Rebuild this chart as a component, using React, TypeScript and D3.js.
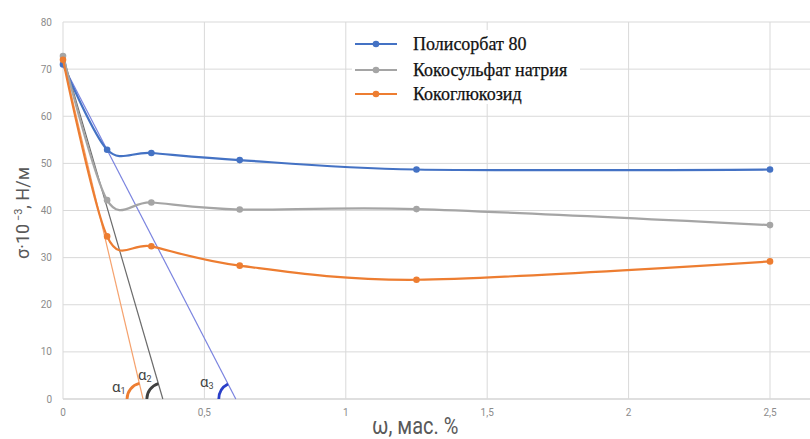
import React from "react";
import * as d3 from "d3";

const concentrations = [0, 0.156, 0.3125, 0.625, 1.25, 2.5];
const polysorbate = [71, 52.9, 52.2, 50.7, 48.7, 48.7];
const cocosulfate = [72.8, 42.2, 41.7, 40.2, 40.3, 36.9];
const cocoglucoside = [72, 34.5, 32.4, 28.3, 25.3, 29.2];

const seriesNames = ["Полисорбат 80", "Кокосульфат натрия", "Кокоглюкозид"];
const seriesColors = ["#4472C4", "#A5A5A5", "#ED7D31"];

// where each tangent from the first point crosses zero
const tangentIntercepts = [0.611, 0.353, 0.283];
const tangentColors = ["#7b84e0", "#6b6b6b", "#f5a26e"];
const arcColors = ["#2a3fc8", "#404040", "#ED7D31"];
const angleLabels = ["3", "2", "1"];

const xTicks = [0, 0.5, 1, 1.5, 2, 2.5];
const yTicks = [0, 10, 20, 30, 40, 50, 60, 70, 80];

const W = 810;
const H = 439;
const left = 63;
const right = 810;
const top = 22;
const bottom = 399;

const App: React.FC = () => {
  const x = d3.scaleLinear().domain([0, 2.5]).range([left, 770]);
  const y = d3.scaleLinear().domain([0, 80]).range([bottom, top]);
  const fmt = (v: number) => String(v).replace(".", ",");

  const allSeries = [polysorbate, cocosulfate, cocoglucoside];
  const line = d3
    .line<[number, number]>()
    .x((d) => x(d[0]))
    .y((d) => y(d[1]))
    .curve(d3.curveCardinal.tension(0.1));

  const arcGen = d3.arc();

  return (
    <svg
      width={W}
      height={H}
      style={{ position: "absolute", left: 0, top: 0, background: "#fff" }}
      fontFamily="Roboto, 'Open Sans', sans-serif"
    >
      {/* grid */}
      {yTicks.map((t) => (
        <line
          key={"gy" + t}
          x1={left}
          x2={right}
          y1={y(t)}
          y2={y(t)}
          stroke={t === 0 ? "#bfbfbf" : "#d9d9d9"}
          strokeWidth={1}
        />
      ))}
      {xTicks.map((t) => (
        <line key={"gx" + t} x1={x(t)} x2={x(t)} y1={top} y2={bottom} stroke="#d9d9d9" strokeWidth={1} />
      ))}
      {yTicks.map((t) => (
        <text key={"ty" + t} x={52} y={y(t) + 3.5} textAnchor="end" fontSize={10} fill="#8c8c8c">
          {t}
        </text>
      ))}
      {xTicks.map((t) => (
        <text key={"tx" + t} x={x(t)} y={416} textAnchor="middle" fontSize={10} fill="#8c8c8c">
          {fmt(t)}
        </text>
      ))}

      {/* tangents */}
      {allSeries.map((s, i) => (
        <line
          key={"tan" + i}
          x1={x(0)}
          y1={y(s[0])}
          x2={x(tangentIntercepts[i])}
          y2={y(0)}
          stroke={tangentColors[i]}
          strokeWidth={1.2}
        />
      ))}

      {/* curves */}
      {allSeries.map((s, i) => {
        const pts = concentrations.map((c, j) => [c, s[j]] as [number, number]);
        return (
          <g key={"s" + i}>
            <path d={line(pts) || ""} fill="none" stroke={seriesColors[i]} strokeWidth={2.2} />
            {pts.map((p, j) => (
              <circle key={j} cx={x(p[0])} cy={y(p[1])} r={3.3} fill={seriesColors[i]} />
            ))}
          </g>
        );
      })}

      {/* angle arcs */}
      {allSeries.map((s, i) => {
        const cx = x(tangentIntercepts[i]);
        const cy = y(0);
        const dx = x(0) - cx;
        const dy = y(s[0]) - cy;
        // d3 arc angle: 0 = up, clockwise
        const ang = Math.atan2(dx, -dy);
        const r = i === 0 ? 17 : 16;
        const d = arcGen({
          innerRadius: r,
          outerRadius: r,
          startAngle: -Math.PI / 2,
          endAngle: ang,
        } as any);
        return (
          <path
            key={"arc" + i}
            transform={`translate(${cx},${cy})`}
            d={d || ""}
            fill="none"
            stroke={arcColors[i]}
            strokeWidth={2.8}
          />
        );
      })}
      {[
        [200, 387],
        [138, 380],
        [112, 392],
      ].map((p, i) => (
        <text key={"al" + i} x={p[0]} y={p[1]} fontSize={15} fill="#444">
          α
          <tspan fontSize={9} dy={2}>
            {angleLabels[i]}
          </tspan>
        </text>
      ))}

      {/* legend */}
      <rect x={352} y={30} width={228} height={74} fill="#fff" />
      {seriesNames.map((n, i) => {
        const ly = [44, 70, 94][i];
        return (
          <g key={"lg" + i}>
            <line x1={355} x2={397} y1={ly} y2={ly} stroke={seriesColors[i]} strokeWidth={2.2} />
            <circle cx={376} cy={ly} r={3.3} fill={seriesColors[i]} />
            <text
              x={413}
              y={ly + 5.5}
              fontSize={18}
              fill="#111"
              stroke="#111"
              strokeWidth={0.25}
              fontFamily="'Liberation Serif', 'Times New Roman', serif"
            >
              {n}
            </text>
          </g>
        );
      })}

      {/* axis titles */}
      <text
        transform={`translate(29,213) rotate(-90)`}
        textAnchor="middle"
        fontSize={18}
        fill="#595959"
      >
        σ·10
        <tspan fontSize={11} dy={-7}>
          {" −3"}
        </tspan>
        <tspan dy={7}>, Н/м</tspan>
      </text>
      <text transform="translate(372,434) scale(1,1.15)" fontSize={20} fill="#595959">
        ω, мас. %
      </text>
    </svg>
  );
};

export default App;
